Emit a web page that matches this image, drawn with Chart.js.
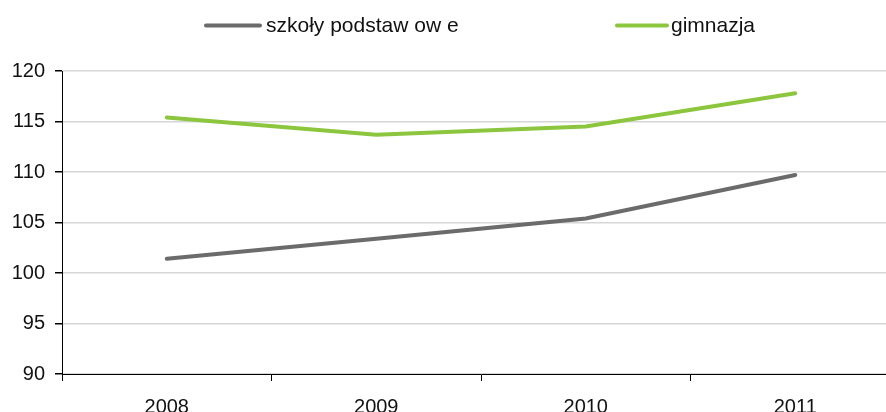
<!DOCTYPE html>
<html>
<head>
<meta charset="utf-8">
<script src="https://cdn.jsdelivr.net/npm/chart.js@4.4.1/dist/chart.umd.min.js"></script>
<style>
  html, body { margin: 0; padding: 0; background: #fff; overflow: hidden; width: 886px; height: 412px; }
  #wrap { width: 902px; height: 416px; }
</style>
</head>
<body>
<div id="wrap"><canvas id="chart" width="902" height="416"></canvas></div>
<script>
// chart data
const years = ['2008', '2009', '2010', '2011'];
const podstawowe = [101.4, 103.4, 105.4, 109.7];
const gimnazja = [115.4, 113.7, 114.5, 117.8];
const yTicks = [90, 95, 100, 105, 110, 115, 120];

const FONT = '"Liberation Sans", Arial, sans-serif';

// legend drawn by hand so spacing matches the original
const topLegend = {
  id: 'topLegend',
  afterDraw(chart) {
    const ctx = chart.ctx;
    const items = [
      { ds: chart.data.datasets[0], x: 206, w: 54, tx: 266 },
      { ds: chart.data.datasets[1], x: 617, w: 50, tx: 671 }
    ];
    ctx.save();
    ctx.font = '21px ' + FONT;
    ctx.textBaseline = 'alphabetic';
    ctx.fillStyle = '#111';
    items.forEach(it => {
      ctx.strokeStyle = it.ds.borderColor;
      ctx.lineWidth = 4;
      ctx.lineCap = 'round';
      ctx.beginPath();
      ctx.moveTo(it.x, 25.5);
      ctx.lineTo(it.x + it.w, 25.5);
      ctx.stroke();
      ctx.fillText(it.ds.label, it.tx, 32);
    });
    ctx.restore();
  }
};

new Chart(document.getElementById('chart'), {
  type: 'line',
  data: {
    labels: years,
    datasets: [
      {
        label: 'szkoły podstaw ow e',
        data: podstawowe,
        borderColor: '#6b6b6b',
        backgroundColor: '#6b6b6b',
        borderWidth: 4,
        pointRadius: 0,
        tension: 0,
        borderCapStyle: 'round'
      },
      {
        label: 'gimnazja',
        data: gimnazja,
        borderColor: '#8cc63e',
        backgroundColor: '#8cc63e',
        borderWidth: 4,
        pointRadius: 0,
        tension: 0,
        borderCapStyle: 'round'
      }
    ]
  },
  options: {
    responsive: false,
    animation: false,
    devicePixelRatio: 1,
    layout: { padding: { top: 71, left: 10, right: 2, bottom: 0 } },
    plugins: {
      legend: { display: false },
      tooltip: { enabled: false }
    },
    scales: {
      x: {
        offset: true,
        afterFit: axis => { axis.height = 42; },
        grid: {
          offset: true,
          drawOnChartArea: false,
          tickLength: 7,
          tickColor: '#000',
          lineWidth: 1
        },
        border: { color: '#000', width: 1 },
        ticks: {
          padding: 14,
          color: '#111',
          font: { family: FONT, size: 20 },
          maxRotation: 0
        }
      },
      y: {
        min: 90,
        max: 120,
        afterBuildTicks: axis => { axis.ticks = yTicks.map(v => ({ value: v })); },
        afterFit: axis => { axis.width = 52; },
        grid: {
          color: '#d6d6d6',
          lineWidth: 1.5,
          tickLength: 7,
          tickColor: '#000'
        },
        border: { color: '#000', width: 1 },
        ticks: {
          padding: 10,
          color: '#111',
          font: { family: FONT, size: 20 }
        }
      }
    }
  },
  plugins: [topLegend]
});
</script>
</body>
</html>
